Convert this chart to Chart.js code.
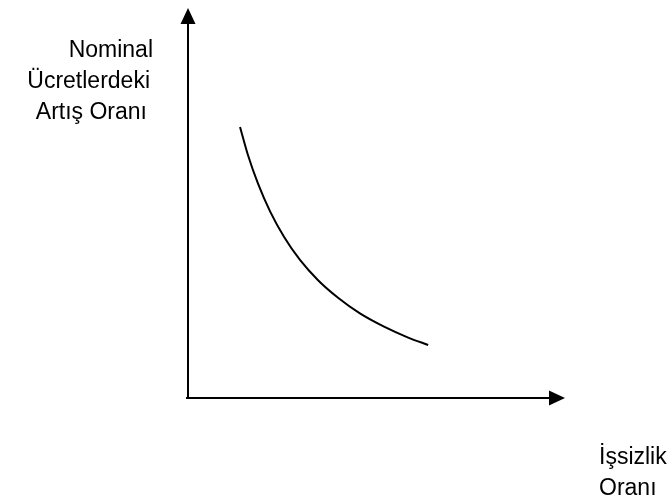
<!DOCTYPE html>
<html>
<head>
<meta charset="utf-8">
<script src="https://cdn.jsdelivr.net/npm/chart.js@4"></script>
<style>
  body { margin: 0; background: #fff; }
  canvas { display: block; }
</style>
</head>
<body>
<canvas id="js--chart" width="672" height="503"></canvas>
<script>
// İşsizlik oranı (x) ve nominal ücret artış oranı (y), 0-10 arası
const unemployment = [1.38, 1.59, 1.86, 2.18, 2.55, 2.97, 3.45, 3.98, 4.56, 5.20, 5.84, 6.37];
const wageGrowth = [6.95, 6.23, 5.49, 4.78, 4.13, 3.54, 3.02, 2.57, 2.17, 1.83, 1.55, 1.36];

const yLabelLines = ["Nominal", "Ücretlerdeki", "Artış Oranı"];
const xLabelLines = ["İşsizlik", "Oranı"];

const points = unemployment.map((x, i) => ({ x: x, y: wageGrowth[i] }));

// eksenler, oklar ve yazılar
const axesPlugin = {
    id: "axes",
    beforeDatasetsDraw(chart) {
        const ctx = chart.ctx;
        const xs = chart.scales.x;
        const ys = chart.scales.y;
        const x0 = xs.getPixelForValue(0);
        const y0 = ys.getPixelForValue(0);
        const xEnd = xs.getPixelForValue(10);
        const yEnd = ys.getPixelForValue(10);

        ctx.save();
        ctx.strokeStyle = "#000";
        ctx.fillStyle = "#000";
        ctx.lineWidth = 2;

        // y ekseni
        ctx.beginPath();
        ctx.moveTo(x0, y0 + 1);
        ctx.lineTo(x0, yEnd + 14);
        ctx.stroke();
        ctx.beginPath();
        ctx.moveTo(x0, yEnd);
        ctx.lineTo(x0 - 7.5, yEnd + 16);
        ctx.lineTo(x0 + 7.5, yEnd + 16);
        ctx.closePath();
        ctx.fill();

        // x ekseni
        ctx.beginPath();
        ctx.moveTo(x0 - 2, y0);
        ctx.lineTo(xEnd - 14, y0);
        ctx.stroke();
        ctx.beginPath();
        ctx.moveTo(xEnd, y0);
        ctx.lineTo(xEnd - 16, y0 - 7.5);
        ctx.lineTo(xEnd - 16, y0 + 7.5);
        ctx.closePath();
        ctx.fill();

        // eksen yazıları
        ctx.font = "23px 'Liberation Sans', Arial, sans-serif";
        ctx.textBaseline = "alphabetic";
        ctx.textAlign = "right";
        const yLabelX = [153, 150, 147];
        yLabelLines.forEach((t, i) => {
            ctx.fillText(t, yLabelX[i], 57 + i * 31);
        });
        ctx.textAlign = "left";
        const xLabelX = [599, 599];
        xLabelLines.forEach((t, i) => {
            ctx.fillText(t, xLabelX[i], 464 + i * 31);
        });
        ctx.restore();
    }
};

const config = {
    type: "scatter",
    data: {
        datasets: [{
            data: points,
            showLine: true,
            borderColor: "#000",
            borderWidth: 2,
            pointRadius: 0,
            cubicInterpolationMode: "monotone",
            fill: false
        }]
    },
    options: {
        responsive: false,
        animation: false,
        layout: {
            padding: { left: 188, right: 107, top: 8, bottom: 105 }
        },
        plugins: {
            legend: { display: false },
            tooltip: { enabled: false }
        },
        scales: {
            x: { type: "linear", min: 0, max: 10, display: false },
            y: { type: "linear", min: 0, max: 10, display: false }
        }
    },
    plugins: [axesPlugin]
};

new Chart(document.getElementById("js--chart"), config);
</script>
</body>
</html>
